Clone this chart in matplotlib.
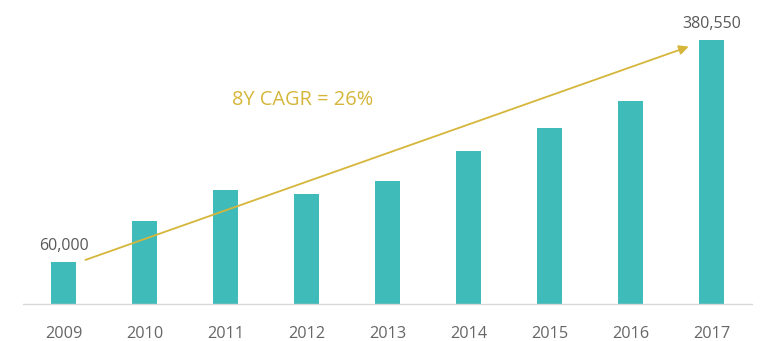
import matplotlib.pyplot as plt
import numpy as np

plt.rcParams['font.family'] = ['Open Sans', 'DejaVu Sans']

years = ['2009', '2010', '2011', '2012', '2013', '2014', '2015', '2016', '2017']
values = [60000, 120200, 165000, 158300, 178000, 220800, 253500, 293400, 380550]
cagr_text = '8Y CAGR = 26%'

bar_color = '#3FBBB9'
gold = '#D6B63A'
grey = '#595959'

fig = plt.figure(figsize=(7.68, 3.41), dpi=100)
ax = fig.add_axes([0.030, 0.1085, 0.949, 0.8915])

x = np.arange(len(years))
ax.bar(x, values, width=0.31, color=bar_color, zorder=2)

ax.set_xlim(-0.5, 8.5)
ax.set_ylim(0, 438700)
ax.set_xticks(x)
ax.set_xticklabels(years, fontsize=11.7, color='#666666')
ax.tick_params(axis='x', length=0, pad=15.5)
ax.set_yticks([])
for s in ['top', 'right', 'left']:
    ax.spines[s].set_visible(False)
ax.spines['bottom'].set_color('#d9d9d9')
ax.spines['bottom'].set_linewidth(1.0)

# labels on first and last bar
for i in (0, len(values) - 1):
    ax.annotate(f'{values[i]:,}', (x[i], values[i]), xytext=(0, 11.5),
                textcoords='offset points', ha='center', va='center',
                fontsize=11.5, color=grey)

# growth arrow
ax.annotate('', xy=(x[-1] - 0.28, values[-1] * 0.976),
            xytext=(x[0] + 0.27, values[0] * 1.06),
            arrowprops=dict(arrowstyle='-|>', color=gold, lw=1.3,
                            mutation_scale=14, shrinkA=0, shrinkB=0), zorder=3)
ax.text(2.95, 294400, cagr_text, ha='center', va='center', fontsize=14.4, color=gold)

fig.savefig('out.png', dpi=100)
